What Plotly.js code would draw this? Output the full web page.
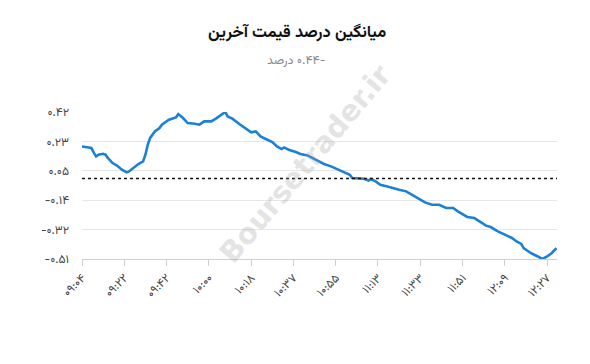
<!DOCTYPE html>
<html><head><meta charset="utf-8">
<script src="https://cdn.plot.ly/plotly-3.0.1.min.js"></script>
<style>body{margin:0;background:#fff}#chart{width:590px;height:364px}</style>
</head><body><div id="chart"></div>
<script>
// sample index (minute steps) and average last-price change (%)
const sampleIdx = [0,2,4,5,6,7,9,10,11,13,15,17,19,20,22,24,26,27,28,29,31,33,34,36,37,40,41,43,45,48,50,52,55,57,59,61,62,64,67,70,72,74,76,78,81,83,85,86,88,91,93,96,98,100,103,106,109,112,114,115,119,120,122,123,125,127,130,132,135,138,141,144,146,149,152,155,158,160,161,164,167,169,172,174,177,180,183,185,187,188,191,194,196,198,200,202];
const avgChange = [0.202,0.199,0.192,0.163,0.139,0.150,0.156,0.150,0.129,0.097,0.080,0.055,0.038,0.044,0.066,0.091,0.107,0.150,0.213,0.256,0.297,0.319,0.340,0.361,0.371,0.386,0.407,0.382,0.350,0.346,0.340,0.361,0.361,0.378,0.398,0.420,0.392,0.378,0.344,0.314,0.291,0.297,0.266,0.251,0.230,0.202,0.186,0.196,0.181,0.167,0.154,0.145,0.129,0.112,0.091,0.076,0.055,0.034,0.023,0.002,0.002,-0.002,-0.013,-0.004,-0.019,-0.040,-0.051,-0.061,-0.072,-0.082,-0.108,-0.135,-0.152,-0.167,-0.167,-0.187,-0.187,-0.209,-0.219,-0.244,-0.251,-0.272,-0.299,-0.308,-0.335,-0.356,-0.377,-0.399,-0.415,-0.441,-0.472,-0.494,-0.510,-0.494,-0.472,-0.441];
const xTickIdx = [0,18,36,54,72,90,108,126,144,162,180,198];
const xTickText = ["۰۹:۰۴","۰۹:۲۲","۰۹:۴۲","۱۰:۰۰","۱۰:۱۸","۱۰:۳۷","۱۰:۵۵","۱۱:۱۳","۱۱:۳۳","۱۱:۵۱","۱۲:۰۹","۱۲:۲۷"];
const yTickVals = [-0.51,-0.324,-0.138,0.048,0.234,0.42];
const yTickText = ["-۰.۵۱","-۰.۳۲","-۰.۱۴","۰.۰۵","۰.۲۳","۰.۴۲"];
const baseline = 0;
const titleText = "میانگین درصد قیمت آخرین";
const subtitleText = "\u202Aدرصد\u200E ۰.۴۴-\u202C";

const FONT = "Vazirmatn, 'Noto Sans Arabic', 'DejaVu Sans', sans-serif";
const trace = {
  x: sampleIdx, y: avgChange, type: 'scatter', mode: 'lines',
  line: {color: '#1b80d8', width: 2.6}, hoverinfo: 'skip'
};
const layout = {
  width: 590, height: 364,
  margin: {l: 82, r: 33, t: 112, b: 105},
  paper_bgcolor: '#ffffff', plot_bgcolor: '#ffffff',
  showlegend: false,
  xaxis: {
    range: [0, 202.2], tickmode: 'array', tickvals: xTickIdx, ticktext: xTickText,
    tickangle: -45, showgrid: false, zeroline: false,
    showline: true, linecolor: '#cfcfcf', linewidth: 1,
    ticks: 'outside', ticklen: 6, tickcolor: '#cfcfcf',
    tickfont: {family: FONT, size: 12, color: '#444'}
  },
  yaxis: {
    range: [-0.51, 0.42], tickmode: 'array', tickvals: yTickVals, ticktext: yTickText,
    showgrid: true, gridcolor: '#e6e6e6', zeroline: false, showline: false,
    ticks: '', ticklabelstandoff: 12,
    tickfont: {family: FONT, size: 12, color: '#444'}
  },
  shapes: [{type: 'line', xref: 'paper', x0: 0, x1: 1, yref: 'y', y0: baseline, y1: baseline,
    line: {color: '#111', width: 1.5, dash: '3px,3px'}}],
  annotations: [
    {text: '<b>' + titleText + '</b>', xref: 'paper', yref: 'paper', x: 0.452, y: 1, yshift: 79,
     showarrow: false, font: {family: FONT, size: 16.5, color: '#111'}, xanchor: 'center', yanchor: 'middle'},
    {text: subtitleText, xref: 'paper', yref: 'paper', x: 0.452, y: 1, yshift: 51,
     showarrow: false, font: {family: FONT, size: 12.5, color: '#888'}, xanchor: 'center', yanchor: 'middle'},
    {text: '<b>Boursetrader.ir</b>', xref: 'paper', yref: 'paper', x: 0.469, y: 0.5, yshift: 22,
     showarrow: false, textangle: -50, font: {family: 'DejaVu Sans', size: 29, color: 'rgba(160,160,160,0.3)'}}
  ]
};
Plotly.newPlot('chart', [trace], layout, {displayModeBar: false, staticPlot: true});
</script></body></html>
